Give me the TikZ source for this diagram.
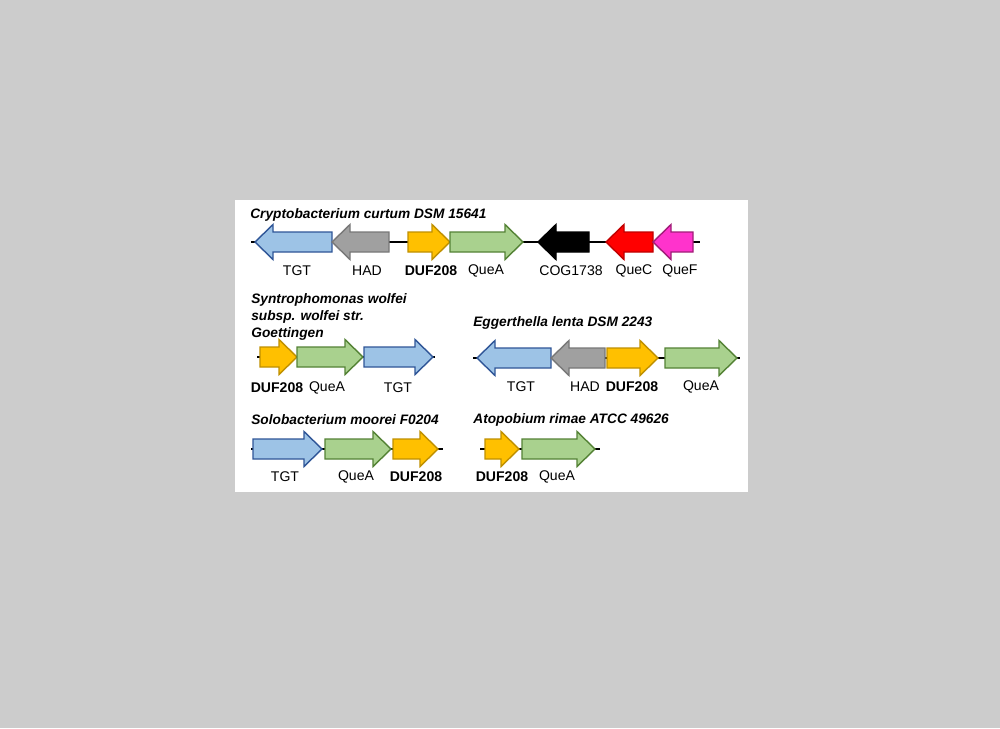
\documentclass[tikz,border=0pt]{standalone}
\usepackage{fontspec}
\setmainfont{Liberation Sans}
\definecolor{bgc}{RGB}{204,204,204}
\definecolor{blueF}{RGB}{157,195,230}\definecolor{blueD}{RGB}{47,85,151}
\definecolor{grayF}{RGB}{160,160,160}\definecolor{grayD}{RGB}{120,120,120}
\definecolor{yelF}{RGB}{255,192,0}\definecolor{yelD}{RGB}{191,144,0}
\definecolor{grnF}{RGB}{169,209,142}\definecolor{grnD}{RGB}{84,130,53}
\definecolor{redF}{RGB}{255,0,0}\definecolor{redD}{RGB}{192,0,0}
\definecolor{magF}{RGB}{255,51,204}\definecolor{magD}{RGB}{160,30,120}
\newcommand\geneR[4]{% x1, x2(tip), y, style
  \draw[#4] (#1,{#3-10}) -- ({#2-18},{#3-10}) -- ({#2-18},{#3-17.5}) -- (#2,#3)
    -- ({#2-18},{#3+17.5}) -- ({#2-18},{#3+10}) -- (#1,{#3+10}) -- cycle;}
\newcommand\geneL[4]{% x1(tip), x2, y, style
  \draw[#4] (#2,{#3-10}) -- ({#1+18},{#3-10}) -- ({#1+18},{#3-17.5}) -- (#1,#3)
    -- ({#1+18},{#3+17.5}) -- ({#1+18},{#3+10}) -- (#2,{#3+10}) -- cycle;}
\tikzset{
  gblue/.style={fill=blueF,draw=blueD,line width=0.8pt,line join=miter},
  ggray/.style={fill=grayF,draw=grayD,line width=0.8pt,line join=miter},
  gyel/.style={fill=yelF,draw=yelD,line width=0.8pt,line join=miter},
  ggrn/.style={fill=grnF,draw=grnD,line width=0.8pt,line join=miter},
  gblk/.style={fill=black,draw=black,line width=0.8pt,line join=miter},
  gred/.style={fill=redF,draw=redD,line width=0.8pt,line join=miter},
  gmag/.style={fill=magF,draw=magD,line width=0.8pt,line join=miter},
  backbone/.style={draw=black,line width=0.7pt},
  lab/.style={inner sep=0pt,font=\fontsize{8}{9.6}\selectfont},
  blab/.style={lab,font=\fontsize{8}{9.6}\selectfont\bfseries},
  ttl/.style={inner sep=0pt,anchor=west,font=\fontsize{7.8}{9.4}\selectfont\bfseries\itshape},
}
\begin{document}
\begin{tikzpicture}[x=0.02cm,y=-0.02cm]
\fill[bgc] (0,0) rectangle (1000,728);
\useasboundingbox (0,0) rectangle (1000,728);
\fill[white] (235,200) rectangle (748,492);
% ---------- Row 1 ----------
\node[ttl] (t1) at (250,215) {Cryptobacterium curtum DSM 15641};
\coordinate (r1s) at (251,242); \coordinate (r1e) at (700,242);
\draw[backbone] (r1s) -- (r1e);
\geneL{255}{332}{242}{gblue}
\geneL{332}{389}{242}{ggray}
\geneR{408}{450}{242}{gyel}
\geneR{450}{523}{242}{ggrn}
\geneL{538}{589}{242}{gblk}
\geneL{606}{653}{242}{gred}
\geneL{653}{693}{242}{gmag}
\node[lab] (l1a) at (297,271) {TGT};
\node[lab] (l1b) at (367,271) {HAD};
\node[blab] (l1c) at (431,271) {DUF208};
\node[lab] (l1d) at (486,271) {QueA};
\node[lab] (l1e) at (571,271) {COG1738};
\node[lab] (l1f) at (634,271) {QueC};
\node[lab] (l1g) at (680,271) {QueF};
% ---------- Row 2 left ----------
\node[ttl] (t2a) at (251,300) {Syntrophomonas wolfei};
\node[ttl] (t2b) at (251,317) {subsp. wolfei str.};
\node[ttl] (t2c) at (251,334) {Goettingen};
\coordinate (r2s) at (257,357); \coordinate (r2e) at (435,357);
\draw[backbone] (r2s) -- (r2e);
\geneR{260}{297}{357}{gyel}
\geneR{297}{363}{357}{ggrn}
\geneR{364}{433}{357}{gblue}
\node[blab] (l2a) at (277,388) {DUF208};
\node[lab] (l2b) at (327,388) {QueA};
\node[lab] (l2c) at (398,388) {TGT};
% ---------- Row 2 right ----------
\node[ttl] (t3) at (473,323) {Eggerthella lenta DSM 2243};
\coordinate (r3s) at (473,358); \coordinate (r3e) at (740,358);
\draw[backbone] (r3s) -- (r3e);
\geneL{477}{551}{358}{gblue}
\geneL{551}{605}{358}{ggray}
\geneR{607}{658}{358}{gyel}
\geneR{665}{737}{358}{ggrn}
\node[lab] (l3a) at (521,387) {TGT};
\node[lab] (l3b) at (585,387) {HAD};
\node[blab] (l3c) at (632,387) {DUF208};
\node[lab] (l3d) at (701,387) {QueA};
% ---------- Row 3 left ----------
\node[ttl] (t4) at (251,420) {Solobacterium moorei F0204};
\coordinate (r4s) at (251,449); \coordinate (r4e) at (443,449);
\draw[backbone] (r4s) -- (r4e);
\geneR{253}{322}{449}{gblue}
\geneR{325}{391}{449}{ggrn}
\geneR{393}{438}{449}{gyel}
\node[lab] (l4a) at (285,477) {TGT};
\node[lab] (l4b) at (356,477) {QueA};
\node[blab] (l4c) at (416,477) {DUF208};
% ---------- Row 3 right ----------
\node[ttl] (t5) at (473,420) {Atopobium rimae ATCC 49626};
\coordinate (r5s) at (480,449); \coordinate (r5e) at (600,449);
\draw[backbone] (r5s) -- (r5e);
\geneR{485}{519}{449}{gyel}
\geneR{522}{595}{449}{ggrn}
\node[blab] (l5a) at (502,477) {DUF208};
\node[lab] (l5b) at (557,477) {QueA};
\end{tikzpicture}
\end{document}
